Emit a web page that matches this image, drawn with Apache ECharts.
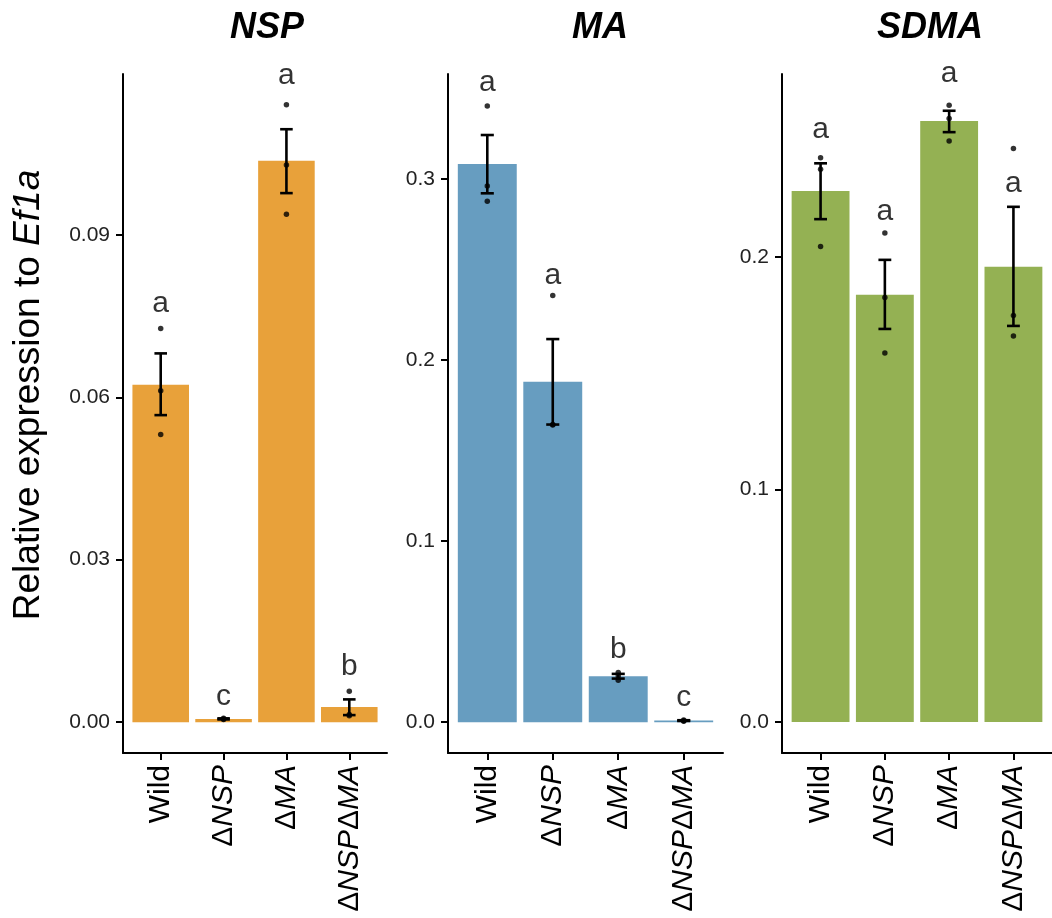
<!DOCTYPE html>
<html>
<head>
<meta charset="utf-8">
<script src="https://cdn.jsdelivr.net/npm/echarts@6/dist/echarts.min.js"></script>
<style>html,body{margin:0;padding:0;background:#fff}#c{width:1052px;height:918px}</style>
</head>
<body>
<div id="c"></div>
<script>
// ---------- data ----------
const categories = ['Wild', 'ΔNSP', 'ΔMA', 'ΔNSPΔMA'];
const categoryLabels = ['Wild', '{d|Δ}{i|NSP}', '{d|Δ}{i|MA}', '{d|Δ}{i|NSP}{d|Δ}{i|MA}'];
const panelTitles = ['NSP', 'MA', 'SDMA'];

// NSP panel
const nspMean = [0.0623, 0.0006, 0.1037, 0.0028];
const nspLow  = [0.0567, 0.0005, 0.0977, 0.0013];
const nspHigh = [0.0681, 0.0007, 0.1095, 0.0042];
const nspPoints = [[0.0727, 0.0612, 0.0531], [0.0007, 0.0006, 0.0005], [0.1140, 0.1029, 0.0938], [0.0057, 0.0014, 0.0012]];
const nspLetters = ['a', 'c', 'a', 'b'];
const nspLetterY = [0.0769, 0.0044, 0.1190, 0.0098];
const nspTicks = [0, 0.03, 0.06, 0.09];

// MA panel
const maMean = [0.3083, 0.1881, 0.0254, 0.0009];
const maLow  = [0.2921, 0.1644, 0.0241, 0.0007];
const maHigh = [0.3243, 0.2116, 0.0267, 0.0011];
const maPoints = [[0.3403, 0.2962, 0.2877], [0.2357, 0.1644, 0.1642], [0.0275, 0.0255, 0.0232], [0.0012, 0.0008, 0.0006]];
const maLetters = ['a', 'a', 'b', 'c'];
const maLetterY = [0.352, 0.2455, 0.0392, 0.0124];
const maTicks = [0, 0.1, 0.2, 0.3];

// SDMA panel
const sdmaMean = [0.2283, 0.1837, 0.2584, 0.1957];
const sdmaLow  = [0.2162, 0.1690, 0.2536, 0.1703];
const sdmaHigh = [0.2402, 0.1987, 0.2628, 0.2215];
const sdmaPoints = [[0.2426, 0.2376, 0.2044], [0.2102, 0.1825, 0.1587], [0.2652, 0.2595, 0.2498], [0.2466, 0.1748, 0.1660]];
const sdmaLetters = ['a', 'a', 'a', 'a'];
const sdmaLetterY = [0.2539, 0.2186, 0.2778, 0.2306];
const sdmaTicks = [0, 0.1, 0.2];

const colors = ['#E8A13A', '#679DC0', '#94B153'];
const FONT = '"Liberation Sans", Arial, Helvetica, sans-serif';

const panels = [
  {mean: nspMean, low: nspLow, high: nspHigh, pts: nspPoints, letters: nspLetters, letterY: nspLetterY, ticks: nspTicks, dec: 2, min: -0.0057, max: 0.1197, grid: {left: 123, top: 74, width: 264, height: 679}},
  {mean: maMean, low: maLow, high: maHigh, pts: maPoints, letters: maLetters, letterY: maLetterY, ticks: maTicks, dec: 1, min: -0.017, max: 0.358, grid: {left: 448, top: 74, width: 275, height: 679}},
  {mean: sdmaMean, low: sdmaLow, high: sdmaHigh, pts: sdmaPoints, letters: sdmaLetters, letterY: sdmaLetterY, ticks: sdmaTicks, dec: 1, min: -0.0133, max: 0.2786, grid: {left: 782, top: 74, width: 276, height: 679}}
];

const grids = [], xAxes = [], yAxes = [], series = [];
const catIdx = categories.map((c, i) => i + 1);

panels.forEach((p, k) => {
  grids.push(p.grid);
  xAxes.push({
    type: 'value', gridIndex: k, min: 0.4, max: 4.6,
    splitLine: {show: false},
    axisLine: {show: true, onZero: false, lineStyle: {color: '#000', width: 2}},
    axisTick: {show: true, customValues: catIdx, length: 7, lineStyle: {color: '#000', width: 2}},
    axisLabel: {
      show: true, customValues: catIdx, rotate: 90, margin: 12,
      fontFamily: FONT, fontSize: 30, color: '#000',
      formatter: v => categoryLabels[Math.round(v) - 1] || '',
      rich: {
        d: {fontFamily: FONT, fontSize: 30, color: '#000', fontStyle: 'normal'},
        i: {fontFamily: FONT, fontSize: 30, color: '#000', fontStyle: 'italic'}
      }
    }
  });
  yAxes.push({
    type: 'value', gridIndex: k, min: p.min, max: p.max,
    splitLine: {show: false},
    axisLine: {show: true, onZero: false, lineStyle: {color: '#000', width: 2}},
    axisTick: {show: true, customValues: p.ticks, length: 7, lineStyle: {color: '#000', width: 2}},
    axisLabel: {show: true, customValues: p.ticks, margin: 13, fontFamily: FONT, fontSize: 21, color: '#222',
      formatter: v => v.toFixed(p.dec)}
  });

  const color = colors[k];
  // bars
  series.push({
    type: 'custom', xAxisIndex: k, yAxisIndex: k, z: 1, clip: false,
    data: p.mean.map((v, i) => [catIdx[i], v]),
    renderItem: (params, api) => {
      const x = api.value(0), v = api.value(1);
      const a = api.coord([x - 0.45, v]);
      const b = api.coord([x + 0.45, 0]);
      return {type: 'rect', shape: {x: a[0], y: Math.min(a[1], b[1]), width: b[0] - a[0], height: Math.abs(b[1] - a[1])}, style: {fill: color}};
    }
  });
  // error bars
  series.push({
    type: 'custom', xAxisIndex: k, yAxisIndex: k, z: 2, clip: false,
    data: p.low.map((v, i) => [catIdx[i], v, p.high[i]]),
    renderItem: (params, api) => {
      const x = api.value(0), lo = api.value(1), hi = api.value(2);
      const pl = api.coord([x, lo]), ph = api.coord([x, hi]);
      const cl = api.coord([x - 0.1, lo]), cr = api.coord([x + 0.1, lo]);
      const hl = api.coord([x - 0.1, hi]), hr = api.coord([x + 0.1, hi]);
      const st = {stroke: '#000', lineWidth: 2.6};
      return {type: 'group', children: [
        {type: 'line', shape: {x1: pl[0], y1: pl[1], x2: ph[0], y2: ph[1]}, style: st},
        {type: 'line', shape: {x1: cl[0], y1: cl[1], x2: cr[0], y2: cr[1]}, style: st},
        {type: 'line', shape: {x1: hl[0], y1: hl[1], x2: hr[0], y2: hr[1]}, style: st}
      ]};
    }
  });
  // points
  const ptData = [];
  p.pts.forEach((arr, i) => arr.forEach(v => ptData.push([catIdx[i], v])));
  series.push({
    type: 'scatter', xAxisIndex: k, yAxisIndex: k, z: 3, clip: false,
    symbol: 'circle', symbolSize: 5.5, itemStyle: {color: '#000'},
    data: ptData, silent: true
  });
  // letters
  series.push({
    type: 'scatter', xAxisIndex: k, yAxisIndex: k, z: 4, clip: false,
    symbolSize: 0, silent: true,
    data: p.letterY.map((v, i) => ({value: [catIdx[i], v], letter: p.letters[i]})),
    label: {show: true, position: 'inside', offset: [0, -2], fontFamily: FONT, fontSize: 30, color: '#000',
      formatter: params => params.data.letter}
  });
});

const chart = echarts.init(document.getElementById('c'), null, {renderer: 'canvas'});
chart.setOption({
  animation: false,
  backgroundColor: '#fff',
  grid: grids, xAxis: xAxes, yAxis: yAxes, series: series,
  graphic: [
    {type: 'text', x: 267, y: 28, style: {text: panelTitles[0], font: 'italic bold 36px ' + FONT, fill: '#000', textAlign: 'center', textVerticalAlign: 'middle'}},
    {type: 'text', x: 600, y: 28, style: {text: panelTitles[1], font: 'italic bold 36px ' + FONT, fill: '#000', textAlign: 'center', textVerticalAlign: 'middle'}},
    {type: 'text', x: 930, y: 28, style: {text: panelTitles[2], font: 'italic bold 36px ' + FONT, fill: '#000', textAlign: 'center', textVerticalAlign: 'middle'}},
    {type: 'text', x: 29, y: 395, rotation: Math.PI / 2,
      style: {text: '{n|Relative expression to }{i|Ef1a}', textAlign: 'center', textVerticalAlign: 'middle', fill: '#000',
        rich: {n: {fontFamily: FONT, fontSize: 37, fill: '#000', color: '#000'}, i: {fontFamily: FONT, fontSize: 37, fontStyle: 'italic', fill: '#000', color: '#000'}}}}
  ]
});
</script>
</body>
</html>
